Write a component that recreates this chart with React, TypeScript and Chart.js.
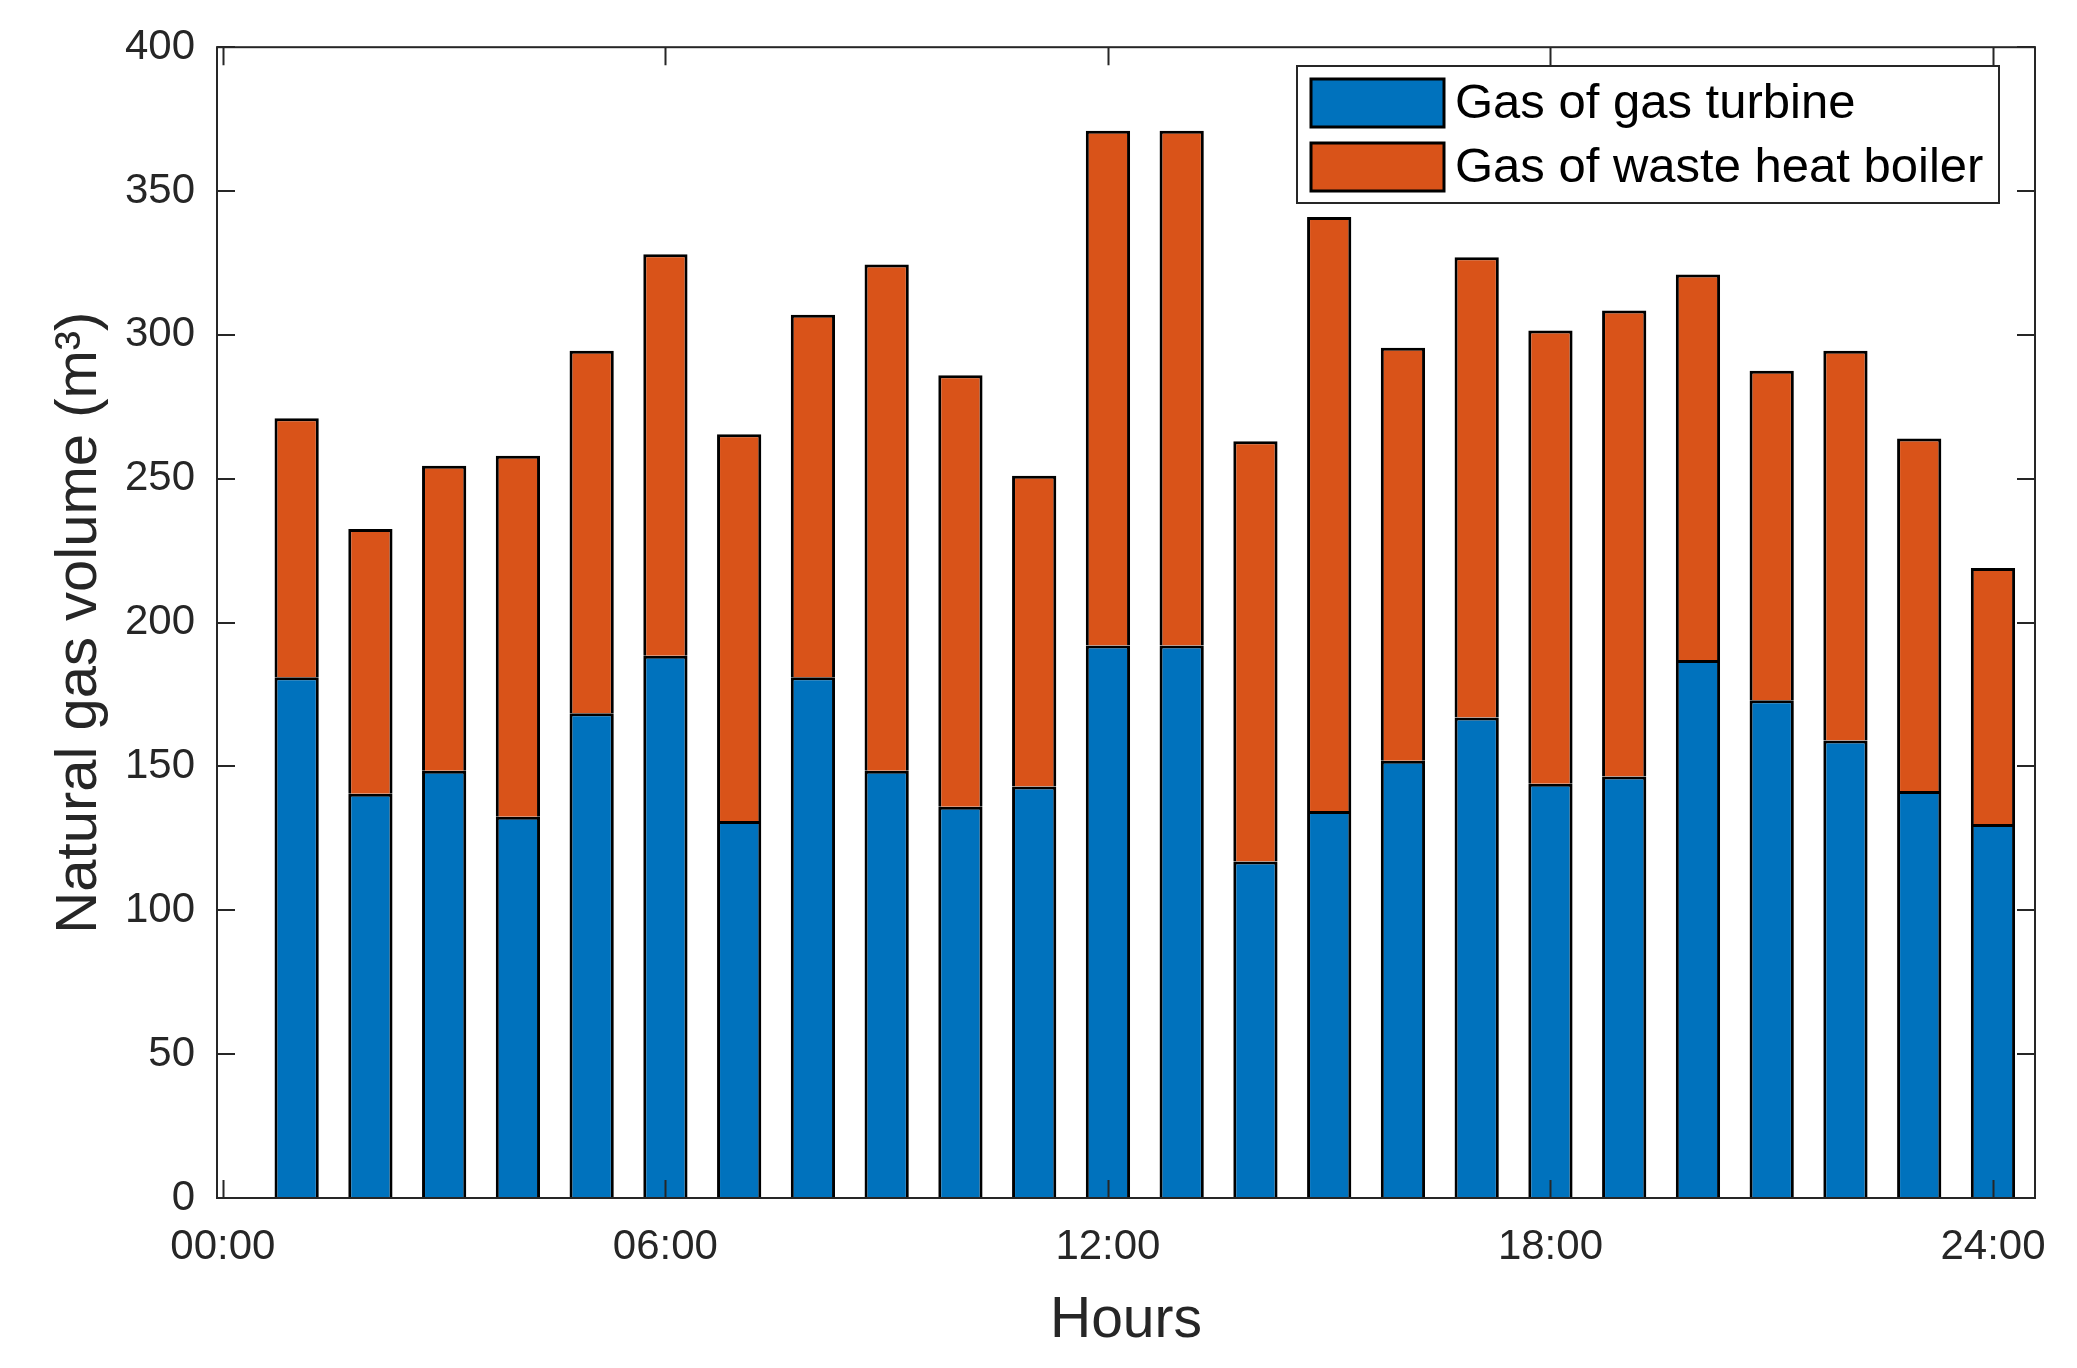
import React, { useEffect, useRef } from "react";
import { Chart, registerables } from "chart.js";

Chart.register(...registerables);

const hours = [1, 2, 3, 4, 5, 6, 7, 8, 9, 10, 11, 12, 13, 14, 15, 16, 17, 18, 19, 20, 21, 22, 23, 24];
const gasTurbine = [181, 140.5, 148.5, 132.5, 168.5, 188.5, 131, 181, 148.5, 136, 143, 192, 192, 117, 134.5, 152, 167, 144, 146.5, 187, 173, 159, 141.5, 130];
const wasteHeatBoiler = [90, 92, 106, 125.5, 126, 139.5, 134.5, 126, 176, 150, 108, 179, 179, 146, 206.5, 143.5, 160, 157.5, 162, 134, 114.5, 135.5, 122.5, 89];
const xTickValues = [0, 6, 12, 18, 24];
const xTickLabels = ["00:00", "06:00", "12:00", "18:00", "24:00"];
const seriesNames = ["Gas of gas turbine", "Gas of waste heat boiler"];

const FONT = "'Liberation Sans', Arial, Helvetica, sans-serif";
const AXIS_COLOR = "#262626";

const matlabAxes = {
  id: "matlabAxes",
  afterDatasetsDraw(chart: any) {
    const { ctx, chartArea, scales } = chart;
    const { left, right, top, bottom } = chartArea;
    const x = scales.x;
    const y = scales.y;
    const L = 18;
    ctx.save();
    ctx.strokeStyle = AXIS_COLOR;
    ctx.lineWidth = 2;
    ctx.beginPath();
    x.ticks.forEach((t: any) => {
      const px = Math.round(x.getPixelForValue(t.value)) + 0.5;
      ctx.moveTo(px, bottom);
      ctx.lineTo(px, bottom - L);
      ctx.moveTo(px, top);
      ctx.lineTo(px, top + L);
    });
    y.ticks.forEach((t: any) => {
      const py = Math.round(y.getPixelForValue(t.value));
      ctx.moveTo(left, py);
      ctx.lineTo(left + L, py);
      ctx.moveTo(right, py);
      ctx.lineTo(right - L, py);
    });
    ctx.stroke();
    ctx.strokeRect(left, top, right - left, bottom - top);
    ctx.restore();
  },
  afterDraw(chart: any) {
    const { ctx } = chart;
    const bx = 1297, by = 66, bw = 702, bh = 137;
    ctx.save();
    ctx.fillStyle = "#ffffff";
    ctx.fillRect(bx, by, bw, bh);
    ctx.strokeStyle = AXIS_COLOR;
    ctx.lineWidth = 2;
    ctx.strokeRect(bx, by, bw, bh);
    const rows = [103, 167];
    chart.data.datasets.forEach((ds: any, i: number) => {
      const cy = rows[i];
      ctx.fillStyle = ds.backgroundColor;
      ctx.fillRect(1311, cy - 24, 133, 48);
      ctx.strokeStyle = "#000";
      ctx.lineWidth = 3;
      ctx.strokeRect(1311, cy - 24, 133, 48);
      ctx.fillStyle = "#000";
      ctx.font = `49px ${FONT}`;
      ctx.textAlign = "left";
      ctx.textBaseline = "middle";
      ctx.fillText(ds.label, 1455, cy + 1);
    });
    ctx.restore();
  },
};

export default function App() {
  const canvasRef = useRef<HTMLCanvasElement | null>(null);

  useEffect(() => {
    if (!canvasRef.current) return;
    const chart = new Chart(canvasRef.current, {
      type: "bar",
      data: {
        datasets: [
          {
            label: seriesNames[0],
            data: hours.map((h, i) => ({ x: h, y: gasTurbine[i] })),
            backgroundColor: "#0072BD",
            borderColor: "#000000",
            borderWidth: 3,
            barPercentage: 0.6,
            categoryPercentage: 1,
          },
          {
            label: seriesNames[1],
            data: hours.map((h, i) => ({ x: h, y: wasteHeatBoiler[i] })),
            backgroundColor: "#D95319",
            borderColor: "#000000",
            borderWidth: 3,
            barPercentage: 0.6,
            categoryPercentage: 1,
          },
        ],
      },
      plugins: [matlabAxes],
      options: {
        animation: false,
        responsive: true,
        maintainAspectRatio: false,
        devicePixelRatio: 1,
        layout: { padding: { top: 46, right: 42, left: 0, bottom: 0 } },
        plugins: {
          legend: { display: false },
          tooltip: { enabled: false },
        },
        scales: {
          x: {
            type: "linear",
            min: -0.08,
            max: 24.57,
            stacked: true,
            offset: false,
            grid: { display: false, drawTicks: false },
            border: { display: false },
            afterBuildTicks: (scale: any) => {
              scale.ticks = xTickValues.map((v) => ({ value: v }));
            },
            ticks: {
              includeBounds: false,
              autoSkip: false,
              maxRotation: 0,
              padding: 24,
              color: AXIS_COLOR,
              font: { family: FONT, size: 42 },
              callback: (_v: any, i: number) => xTickLabels[i],
            },
            title: {
              display: true,
              text: "Hours",
              color: AXIS_COLOR,
              font: { family: FONT, size: 57 },
              padding: { top: 0, bottom: 13 },
            },
            afterFit: (scale: any) => {
              scale.height = 170;
            },
          },
          y: {
            type: "linear",
            min: 0,
            max: 400,
            stacked: true,
            grid: { display: false, drawTicks: false },
            border: { display: false },
            ticks: {
              stepSize: 50,
              padding: 22,
              color: AXIS_COLOR,
              font: { family: FONT, size: 42 },
            },
            title: {
              display: true,
              text: "Natural gas volume (m³)",
              color: AXIS_COLOR,
              font: { family: FONT, size: 58 },
              padding: { top: 45, bottom: 0 },
            },
            afterFit: (scale: any) => {
              scale.width = 217;
            },
          },
        },
      },
    });
    return () => chart.destroy();
  }, []);

  return (
    <div style={{ position: "absolute", left: 0, top: 0, width: 2077, height: 1368, background: "#fff" }}>
      <canvas ref={canvasRef} />
    </div>
  );
}
